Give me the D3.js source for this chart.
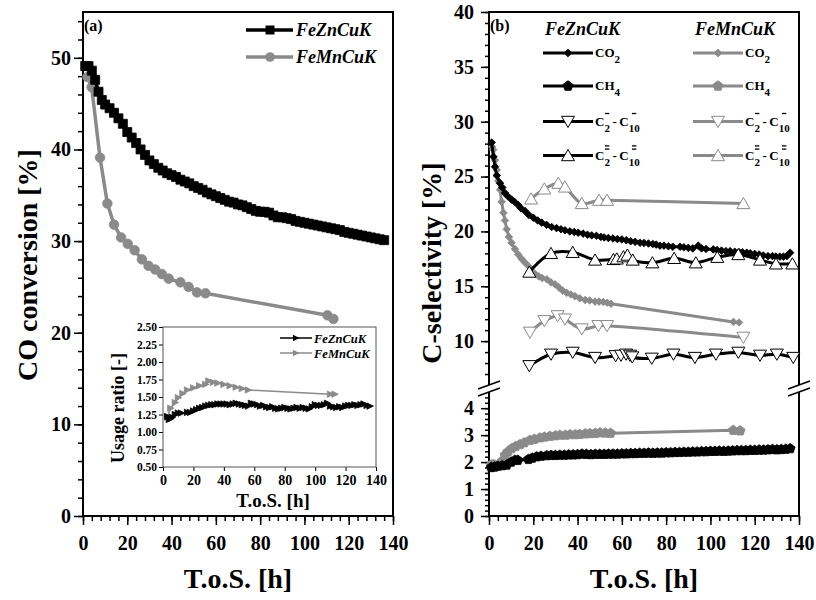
<!doctype html>
<html>
<head>
<meta charset="utf-8">
<script src="https://d3js.org/d3.v7.min.js"></script>
<style>
  body { margin: 0; background: #fff; }
</style>
</head>
<body>
<svg width="816" height="600"></svg>
<script>
// ---- data ----
var tickX = [0, 20, 40, 60, 80, 100, 120, 140];
var tickConv = [0, 10, 20, 30, 40, 50];
var tickSelHi = [10, 15, 20, 25, 30, 35, 40];
var tickSelLo = [0, 1, 2, 3, 4];
var tickUsage = [0.5, 0.75, 1.0, 1.25, 1.5, 1.75, 2.0, 2.25, 2.5];

// (a) CO conversion [%]
var convZn = [[1,49.1],[2.5,49.1],[4,48.6],[5.5,47.6],[7,46.3],[8.5,45.4],[10,44.9],[12,44.5],[14,44.0],[16,43.4],[18,42.8],[20,41.9],[22,41.3],[24,40.7],[26,40.0],[28,39.4],[30,38.8],[32,38.4],[34,38.0],[36,37.7],[38,37.4],[40,37.2],[42,37.0],[44,36.7],[46,36.5],[48,36.3],[50,36.0],[52,35.8],[54,35.6],[56,35.3],[58,35.1],[60,34.9],[62,34.7],[64,34.5],[66,34.3],[68,34.2],[70,34.0],[72,33.9],[74,33.7],[76,33.5],[78,33.3],[80,33.2],[82,33.2],[84,33.1],[86,32.8],[88,32.6],[90,32.6],[92,32.5],[94,32.4],[96,32.2],[98,32.1],[100,32.0],[102,31.9],[104,31.8],[106,31.7],[108,31.6],[110,31.5],[112,31.4],[114,31.3],[116,31.2],[118,31.0],[120,30.9],[122,30.8],[124,30.7],[126,30.6],[128,30.5],[130,30.4],[132,30.3],[134,30.2],[136,30.1]];
var convMn = [[2.0,47.9],[3.9,46.8],[7.7,39.1],[11,34.1],[14,31.8],[17.2,30.4],[20.2,29.7],[23.3,29.0],[26.6,28.0],[29.6,27.3],[32.6,26.9],[35.6,26.4],[38.7,25.9],[44,25.5],[47.7,25.0],[51.5,24.4],[55.3,24.3],[110.4,21.9],[113.1,21.5]];

// inset: usage ratio [-]
var usageZn = [[3,1.22],[4,1.18],[5,1.19],[6,1.21],[8,1.25],[10,1.27],[12,1.27],[16,1.28],[18,1.28],[20,1.30],[22,1.32],[24,1.34],[26,1.35],[28,1.37],[30,1.38],[32,1.39],[34,1.39],[36,1.40],[38,1.40],[40,1.40],[42,1.40],[44,1.39],[46,1.40],[48,1.41],[50,1.40],[52,1.39],[54,1.38],[56,1.37],[58,1.41],[60,1.40],[62,1.39],[64,1.37],[66,1.38],[68,1.36],[70,1.35],[72,1.36],[74,1.34],[76,1.33],[78,1.34],[80,1.35],[82,1.34],[84,1.33],[86,1.34],[88,1.35],[90,1.34],[92,1.35],[94,1.34],[96,1.33],[98,1.36],[100,1.39],[102,1.38],[104,1.38],[106,1.39],[108,1.41],[110,1.37],[112,1.36],[114,1.35],[116,1.36],[118,1.35],[120,1.37],[122,1.38],[124,1.38],[126,1.39],[128,1.38],[130,1.39],[132,1.40],[134,1.38],[136,1.37]];
var usageMn = [[3,1.22],[5,1.34],[8,1.42],[10,1.49],[13,1.55],[16,1.60],[20,1.63],[24,1.66],[28,1.68],[30,1.73],[33,1.71],[36,1.70],[40,1.68],[44,1.66],[48,1.64],[52,1.62],[56,1.60],[110,1.54],[113,1.54]];

// (b) C-selectivity [%]
var co2Zn = [[1.2,28.1],[2,26.8],[2.7,25.9],[3.5,25.1],[5,24.4],[6,24.0],[7.2,23.5],[8.5,23.2],[10.2,22.9],[11.5,22.7],[13.2,22.4],[14.5,22.1],[16.3,21.85],[18,21.5],[20,21.25],[22,21.0],[23.8,20.8],[26,20.6],[28.3,20.4],[30.5,20.3],[32.5,20.2],[34.3,20.1],[36.5,20.0],[38.5,19.95],[40.3,19.88],[42.5,19.8],[44.5,19.7],[46.4,19.64],[48.5,19.6],[50.5,19.5],[52,19.45],[53.9,19.4],[56,19.35],[58,19.3],[60,19.27],[62,19.2],[64,19.1],[66,19.05],[68.2,18.97],[70,18.95],[72,18.9],[74,18.85],[75.5,18.8],[77.2,18.7],[79,18.7],[81,18.65],[83,18.6],[86.3,18.6],[88,18.55],[90,18.5],[92,18.45],[94.5,18.7],[96,18.45],[98,18.4],[101.3,18.36],[103,18.3],[105,18.25],[107,18.2],[108.9,18.2],[111,18.15],[113,18.1],[114.5,18.1],[116.4,18.06],[118,18.0],[120,17.95],[122,17.9],[123.9,17.8],[126,17.75],[128,17.75],[129.5,17.7],[131.4,17.7],[133,17.7],[134.5,17.75],[136,18.06]];
var co2Mn = [[1.5,27.7],[1.9,27.45],[2.7,26.5],[3.5,25.6],[4.2,24.6],[5,23.8],[5.7,22.7],[6.5,21.7],[7.2,21.0],[8,20.2],[9,19.5],[10.2,18.97],[11.7,18.4],[13.2,17.9],[14.7,17.5],[16.3,17.15],[18,16.8],[19.3,16.4],[21,16.1],[22.5,15.9],[24,15.75],[26.1,15.64],[28,15.35],[29.8,15.18],[31.5,14.9],[33.3,14.6],[35.1,14.4],[37,14.25],[38.8,14.1],[41,13.9],[43.4,13.75],[45.5,13.7],[47.9,13.6],[49.7,13.6],[51.6,13.57],[53.4,13.5],[55.1,13.4],[110.4,11.75],[112.9,11.7]];
var oleMn = [[19.0,22.97],[25.0,23.88],[31.3,24.4],[34.3,24.06],[41.9,22.55],[49.7,22.85],[53.3,22.85],[114.9,22.55]];
var oleZn = [[18.2,16.3],[28.0,18.0],[37.8,18.1],[47.9,17.4],[56.2,17.45],[57.7,17.5],[60.7,17.7],[62.5,17.85],[64.9,17.4],[73.8,17.15],[83.6,17.55],[93.4,17.15],[103.1,17.65],[112.6,17.9],[122.4,17.4],[129.6,17.05],[137,17.05]];
var parMn = [[18.5,10.8],[25,11.85],[31,12.3],[34.3,12.0],[41.9,11.1],[49.4,11.4],[53.3,11.4],[114.9,10.34]];
var parZn = [[18.2,7.75],[28,8.8],[37.8,8.97],[47.9,8.5],[57.2,8.66],[59.6,8.7],[61.9,8.8],[63.7,8.7],[64.7,8.55],[73.5,8.43],[83.3,8.8],[93,8.5],[102.5,8.8],[112.6,8.97],[122.4,8.7],[130,8.8],[137.4,8.5]];
var ch4Mn = [[1,1.9],[2,1.91],[3,1.88],[5,1.9],[6,2.05],[7.2,2.26],[8.5,2.38],[10.2,2.5],[12,2.58],[14,2.65],[16,2.72],[18.5,2.81],[20.5,2.85],[23,2.9],[25,2.93],[27.5,2.96],[30,2.98],[32,3.0],[34.5,3.0],[36.6,3.02],[39,3.02],[41,3.03],[43.5,3.05],[45.6,3.06],[48,3.07],[50.1,3.09],[52.5,3.08],[54.9,3.07],[110.3,3.18],[113.4,3.16]];
var ch4Zn = [[1,1.8],[2.5,1.82],[4,1.85],[6,1.87],[8,1.89],[10,2.0],[11.7,2.07],[13,2.07],[17.8,2.1],[19.5,2.15],[21.5,2.2],[23.5,2.22],[26,2.24],[28,2.25],[30,2.25],[32,2.26],[34,2.26],[36,2.27],[38,2.27],[40,2.28],[42,2.3],[44,2.29],[46,2.28],[48,2.29],[50,2.29],[52,2.29],[54,2.3],[56,2.3],[58,2.3],[60,2.31],[62,2.31],[64,2.32],[66,2.32],[68,2.33],[70,2.33],[72,2.34],[74,2.33],[76,2.34],[78,2.34],[80,2.35],[82,2.35],[84,2.36],[86,2.36],[88,2.37],[90,2.37],[92,2.38],[94,2.38],[96,2.39],[98,2.39],[100,2.4],[102,2.4],[104,2.41],[106,2.4],[108,2.41],[110,2.42],[112,2.43],[114,2.43],[116,2.43],[118,2.44],[120,2.44],[122,2.45],[124,2.45],[126,2.46],[128,2.47],[130,2.46],[132,2.47],[134,2.48],[136,2.5]];

// ---- drawing ----
var serif = "'Liberation Serif','Times New Roman',serif";
var grey = "#8a8a8a";
var svg = d3.select("svg");

// marker paths
var pSquare = "M-4.5,-4.5H4.5V4.5H-4.5Z";
var pDiamond = "M0,-3.8L3.8,0L0,3.8L-3.8,0Z";
var pUp = "M0,-6L6.5,5.2L-6.5,5.2Z";
var pDown = "M0,6L6.5,-5.2L-6.5,-5.2Z";
var pRight = "M-3,-3.2L3.5,0L-3,3.2Z";
var pPenta = (function() {
  var r = 5.2, s = "";
  for (var i = 0; i < 5; i++) {
    var a = -Math.PI / 2 + i * 2 * Math.PI / 5;
    s += (i ? "L" : "M") + (r * Math.cos(a)).toFixed(2) + "," + (r * Math.sin(a)).toFixed(2);
  }
  return s + "Z";
})();

function series(g, data, x, y, o) {
  var line = d3.line().x(function(d) { return x(d[0]); }).y(function(d) { return y(d[1]); });
  if (o.curve) line.curve(o.curve);
  g.append("path").datum(data).attr("d", line)
    .attr("fill", "none").attr("stroke", o.color).attr("stroke-width", o.lw)
    .attr("stroke-linejoin", "round");
  g.selectAll(null).data(data).enter().append(o.circle ? "circle" : "path")
    .each(function(d) {
      var s = d3.select(this);
      if (o.circle) s.attr("cx", x(d[0])).attr("cy", y(d[1])).attr("r", o.circle);
      else s.attr("d", o.shape).attr("transform", "translate(" + x(d[0]) + "," + y(d[1]) + ")");
    })
    .attr("fill", o.fill || o.color).attr("stroke", o.stroke || o.color)
    .attr("stroke-width", o.sw || 0.8);
}

function styleAxis(g, size) {
  g.attr("font-family", serif).attr("font-size", size).attr("font-weight", "bold");
  g.select(".domain").remove();
  g.selectAll("line").attr("stroke", "#000").attr("stroke-width", 1.5);
  g.selectAll("text").attr("fill", "#000");
}

function range(a, b, s) { return d3.range(a, b + s / 2, s); }

// ===== panel (a) =====
var ax = d3.scaleLinear().domain([0, 140]).range([83, 393]);
var ay = d3.scaleLinear().domain([0, 55]).range([516, 12]);
var ga = svg.append("g");

ga.append("g").attr("transform", "translate(0,516)")
  .call(d3.axisBottom(ax).tickValues(range(0, 140, 4)).tickSize(5).tickFormat(""))
  .call(styleAxis, 20);
ga.append("g").attr("transform", "translate(0,516)")
  .call(d3.axisBottom(ax).tickValues(tickX).tickSize(9).tickPadding(11))
  .call(styleAxis, 20);
ga.append("g").attr("transform", "translate(83,0)")
  .call(d3.axisLeft(ay).tickValues(range(0, 54, 2)).tickSize(5).tickFormat(""))
  .call(styleAxis, 20);
ga.append("g").attr("transform", "translate(83,0)")
  .call(d3.axisLeft(ay).tickValues(tickConv).tickSize(9).tickPadding(3))
  .call(styleAxis, 20);
ga.append("rect").attr("x", 83).attr("y", 12).attr("width", 310).attr("height", 504)
  .attr("fill", "none").attr("stroke", "#000").attr("stroke-width", 2);

series(ga, convMn, ax, ay, {color: grey, lw: 3.5, circle: 4.8});
series(ga, convZn, ax, ay, {color: "#000", lw: 3.5, shape: pSquare});

ga.append("text").attr("x", 84).attr("y", 31).attr("font-family", serif)
  .attr("font-weight", "bold").attr("font-size", 16).text("(a)");

// legend (a)
[["FeZnCuK", "#000", 30, "sq"], ["FeMnCuK", grey, 57, "ci"]].forEach(function(r) {
  ga.append("line").attr("x1", 246).attr("x2", 293).attr("y1", r[2]).attr("y2", r[2])
    .attr("stroke", r[1]).attr("stroke-width", 3.5);
  if (r[3] == "sq") ga.append("path").attr("d", pSquare).attr("fill", r[1])
    .attr("transform", "translate(270," + r[2] + ")");
  else ga.append("circle").attr("cx", 270).attr("cy", r[2]).attr("r", 4.8).attr("fill", r[1]);
  ga.append("text").attr("x", 296).attr("y", r[2] + 6).attr("font-family", serif)
    .attr("font-weight", "bold").attr("font-style", "italic").attr("font-size", 18).text(r[0]);
});

ga.append("text").attr("transform", "translate(37,265) rotate(-90)")
  .attr("text-anchor", "middle").attr("font-family", serif).attr("font-weight", "bold")
  .attr("font-size", 28).text("CO conversion [%]");
ga.append("text").attr("x", 238).attr("y", 588).attr("text-anchor", "middle")
  .attr("font-family", serif).attr("font-weight", "bold").attr("font-size", 28).text("T.o.S. [h]");

// ===== inset =====
var ix = d3.scaleLinear().domain([0, 140]).range([163, 376]);
var iy = d3.scaleLinear().domain([0.5, 2.5]).range([467, 327]);
var gi = svg.append("g");
gi.append("g").attr("transform", "translate(0,467)")
  .call(d3.axisBottom(ix).tickValues(tickX).tickSize(4).tickPadding(4))
  .call(styleAxis, 14);
gi.append("g").attr("transform", "translate(163,0)")
  .call(d3.axisLeft(iy).tickValues(tickUsage).tickSize(4).tickPadding(2).tickFormat(d3.format(".2f")))
  .call(styleAxis, 11.5);
gi.selectAll("line").attr("stroke-width", 1);
gi.append("rect").attr("x", 163).attr("y", 327).attr("width", 213).attr("height", 140)
  .attr("fill", "none").attr("stroke", "#555").attr("stroke-width", 1);

series(gi, usageMn, ix, iy, {color: grey, lw: 1.5, shape: pRight});
series(gi, usageZn, ix, iy, {color: "#000", lw: 1.5, shape: pRight});

[["FeZnCuK", "#000", 338], ["FeMnCuK", grey, 353]].forEach(function(r) {
  gi.append("line").attr("x1", 280).attr("x2", 312).attr("y1", r[2]).attr("y2", r[2])
    .attr("stroke", r[1]).attr("stroke-width", 1.5);
  gi.append("path").attr("d", pRight).attr("fill", r[1])
    .attr("transform", "translate(296," + r[2] + ")");
  gi.append("text").attr("x", 314).attr("y", r[2] + 4.5).attr("font-family", serif)
    .attr("font-weight", "bold").attr("font-style", "italic").attr("font-size", 12.5).text(r[0]);
});
gi.append("text").attr("transform", "translate(124,408) rotate(-90)")
  .attr("text-anchor", "middle").attr("font-family", serif).attr("font-weight", "bold")
  .attr("font-size", 18).text("Usage ratio [-]");
gi.append("text").attr("x", 273).attr("y", 507).attr("text-anchor", "middle")
  .attr("font-family", serif).attr("font-weight", "bold").attr("font-size", 19).text("T.o.S. [h]");

// ===== panel (b) =====
var bx = d3.scaleLinear().domain([0, 140]).range([489, 799]);
var byHi = d3.scaleLinear().domain([6, 40]).range([385, 12]);
var byLo = d3.scaleLinear().domain([0, 4.6]).range([516, 392]);
var gb = svg.append("g");

gb.append("g").attr("transform", "translate(0,516)")
  .call(d3.axisBottom(bx).tickValues(range(0, 140, 4)).tickSize(5).tickFormat(""))
  .call(styleAxis, 20);
gb.append("g").attr("transform", "translate(0,516)")
  .call(d3.axisBottom(bx).tickValues(tickX).tickSize(9).tickPadding(11))
  .call(styleAxis, 20);
gb.append("g").attr("transform", "translate(489,0)")
  .call(d3.axisLeft(byHi).tickValues(range(7, 40, 1)).tickSize(4).tickFormat(""))
  .call(styleAxis, 20);
gb.append("g").attr("transform", "translate(489,0)")
  .call(d3.axisLeft(byHi).tickValues(tickSelHi).tickSize(8).tickPadding(7).tickFormat(d3.format("d")))
  .call(styleAxis, 20);
gb.append("g").attr("transform", "translate(489,0)")
  .call(d3.axisLeft(byLo).tickValues(range(0, 4.4, 0.2)).tickSize(4).tickFormat(""))
  .call(styleAxis, 20);
gb.append("g").attr("transform", "translate(489,0)")
  .call(d3.axisLeft(byLo).tickValues(tickSelLo).tickSize(8).tickPadding(7).tickFormat(d3.format("d")))
  .call(styleAxis, 20);

// frame with axis break
var frame = gb.append("g").attr("stroke", "#000").attr("stroke-width", 2).attr("fill", "none");
frame.append("path").attr("d", "M489,385V12H799V385");
frame.append("path").attr("d", "M489,392V516H799V392");
[489, 799].forEach(function(xx) {
  frame.append("line").attr("x1", xx - 11).attr("x2", xx + 11).attr("y1", 389).attr("y2", 381).attr("stroke-width", 1.5);
  frame.append("line").attr("x1", xx - 11).attr("x2", xx + 11).attr("y1", 396).attr("y2", 388).attr("stroke-width", 1.5);
});

var cr = d3.curveCatmullRom.alpha(0.5);
series(gb, oleMn, bx, byHi, {color: grey, lw: 3, shape: pUp, fill: "#fff", stroke: grey, sw: 1, curve: cr});
series(gb, parMn, bx, byHi, {color: grey, lw: 3, shape: pDown, fill: "#fff", stroke: grey, sw: 1, curve: cr});
series(gb, co2Mn, bx, byHi, {color: grey, lw: 3, shape: pDiamond});
series(gb, co2Zn, bx, byHi, {color: "#000", lw: 3, shape: pDiamond});
series(gb, oleZn, bx, byHi, {color: "#000", lw: 3, shape: pUp, fill: "#fff", stroke: "#000", sw: 1, curve: cr});
series(gb, parZn, bx, byHi, {color: "#000", lw: 3, shape: pDown, fill: "#fff", stroke: "#000", sw: 1, curve: cr});
series(gb, ch4Mn, bx, byLo, {color: grey, lw: 3, shape: pPenta});
series(gb, ch4Zn, bx, byLo, {color: "#000", lw: 3, shape: pPenta});

gb.append("text").attr("x", 490).attr("y", 31).attr("font-family", serif)
  .attr("font-weight", "bold").attr("font-size", 16).text("(b)");

// legend (b)
function piece(x, y, str, size) {
  var t = gb.append("text").attr("x", x).attr("y", y).attr("font-family", serif)
    .attr("font-weight", "bold").attr("font-size", size).attr("fill", "#000").text(str);
  return t.node().getComputedTextLength();
}
function mark(cx, y, kind) {
  var ys = kind == "=" ? [y - 1.6, y + 1.6] : [y];
  ys.forEach(function(yy) {
    gb.append("line").attr("x1", cx - 2.2).attr("x2", cx + 2.2).attr("y1", yy).attr("y2", yy)
      .attr("stroke", "#000").attr("stroke-width", 1.3);
  });
}
var legCols = [["FeZnCuK", "#000", 543], ["FeMnCuK", grey, 693]];
var legRows = [["CO", "2", null, pDiamond, false], ["CH", "4", null, pPenta, false],
               ["C", "2", "-", pDown, true], ["C", "2", "=", pUp, true]];
var rowY = [53, 86, 121.5, 155.5];
legCols.forEach(function(c) {
  gb.append("text").attr("x", c[2] + 2).attr("y", 35).attr("font-family", serif)
    .attr("font-weight", "bold").attr("font-style", "italic").attr("font-size", 18).text(c[0]);
  legRows.forEach(function(r, i) {
    var y = rowY[i];
    gb.append("line").attr("x1", c[2]).attr("x2", c[2] + 50).attr("y1", y).attr("y2", y)
      .attr("stroke", c[1]).attr("stroke-width", 3);
    gb.append("path").attr("d", r[3]).attr("transform", "translate(" + (c[2] + 25) + "," + y + ")")
      .attr("fill", r[4] ? "#fff" : c[1]).attr("stroke", c[1]).attr("stroke-width", 1);
    var x = c[2] + 52;
    x += piece(x, y + 4, r[0], 13);
    var w = piece(x, y + 10, r[1], 11);
    if (r[2]) {
      mark(x + w / 2, y - 8, r[2]);
      x += w + 2.5;
      x += piece(x, y + 4, "-", 13) + 2.5;
      x += piece(x, y + 4, "C", 13);
      w = piece(x, y + 10, "10", 11);
      mark(x + w / 2, y - 8, r[2]);
    }
  });
});

gb.append("text").attr("transform", "translate(441,263) rotate(-90)")
  .attr("text-anchor", "middle").attr("font-family", serif).attr("font-weight", "bold")
  .attr("font-size", 28).text("C-selectivity [%]");
gb.append("text").attr("x", 644).attr("y", 588).attr("text-anchor", "middle")
  .attr("font-family", serif).attr("font-weight", "bold").attr("font-size", 28).text("T.o.S. [h]");
</script>
</body>
</html>
